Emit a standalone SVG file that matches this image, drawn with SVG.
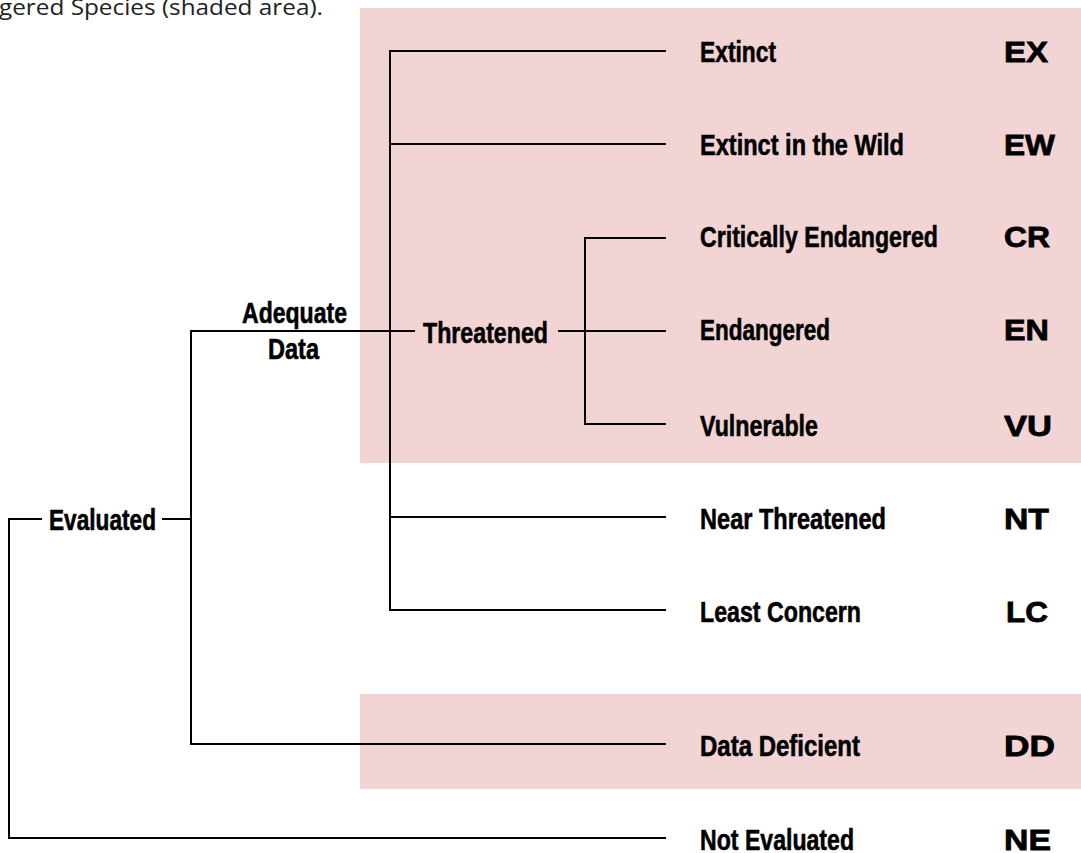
<svg xmlns="http://www.w3.org/2000/svg" width="1081" height="853" viewBox="0 0 1081 853">
<style>
.lbl{font-family:"Liberation Sans",Arial,sans-serif;font-weight:bold;font-size:30px;fill:#000;stroke:#000;stroke-width:0.6}
.abbr{font-family:"Liberation Sans",Arial,sans-serif;font-weight:bold;font-size:30px;fill:#000;stroke:#000;stroke-width:0.8}
.cap{font-family:"Open Sans","Noto Sans",sans-serif;font-size:21px;fill:#222}
.shade{fill:#F2D4D5}
.conn line, .conn polyline{stroke:#000;stroke-width:2;fill:none}
</style>
<rect width="1081" height="853" fill="#fff"/>
<text class="cap" x="-1" y="15" textLength="324" lengthAdjust="spacingAndGlyphs">gered Species (shaded area).</text>
<rect class="shade" x="360" y="8" width="721" height="455"/>
<rect class="shade" x="360" y="694" width="721" height="95"/>
<g class="conn" id="connectors">
<polyline points="666,51 390,51 390,610 666,610"/>
<line x1="390" y1="144" x2="666" y2="144"/>
<line x1="390" y1="517" x2="666" y2="517"/>
<polyline points="666,238 585,238 585,424 666,424"/>
<line x1="558" y1="331" x2="666" y2="331"/>
<polyline points="415,331 191,331 191,744 666,744"/>
<polyline points="42,519 9,519 9,838 666,838"/>
<line x1="162" y1="519" x2="191" y2="519"/>
</g>
<g id="evaluated"><text class="lbl" x="49" y="530" textLength="107" lengthAdjust="spacingAndGlyphs">Evaluated</text></g>
<g id="adequate"><text class="lbl" x="242" y="323" textLength="105" lengthAdjust="spacingAndGlyphs">Adequate</text><text class="lbl" x="268" y="359" textLength="51" lengthAdjust="spacingAndGlyphs">Data</text></g>
<g id="threatened"><text class="lbl" x="423" y="343" textLength="125" lengthAdjust="spacingAndGlyphs">Threatened</text></g>
<g id="ex"><text class="lbl" x="700" y="62" textLength="76" lengthAdjust="spacingAndGlyphs">Extinct</text><text class="abbr" x="1004" y="62" textLength="44" lengthAdjust="spacingAndGlyphs">EX</text></g>
<g id="ew"><text class="lbl" x="700" y="155" textLength="204" lengthAdjust="spacingAndGlyphs">Extinct in the Wild</text><text class="abbr" x="1004" y="155" textLength="51" lengthAdjust="spacingAndGlyphs">EW</text></g>
<g id="cr"><text class="lbl" x="700" y="247" textLength="238" lengthAdjust="spacingAndGlyphs">Critically Endangered</text><text class="abbr" x="1004" y="247" textLength="46" lengthAdjust="spacingAndGlyphs">CR</text></g>
<g id="en"><text class="lbl" x="700" y="340" textLength="130" lengthAdjust="spacingAndGlyphs">Endangered</text><text class="abbr" x="1004" y="340" textLength="45" lengthAdjust="spacingAndGlyphs">EN</text></g>
<g id="vu"><text class="lbl" x="700" y="436" textLength="118" lengthAdjust="spacingAndGlyphs">Vulnerable</text><text class="abbr" x="1004" y="436" textLength="48" lengthAdjust="spacingAndGlyphs">VU</text></g>
<g id="nt"><text class="lbl" x="700" y="529" textLength="186" lengthAdjust="spacingAndGlyphs">Near Threatened</text><text class="abbr" x="1004" y="529" textLength="45" lengthAdjust="spacingAndGlyphs">NT</text></g>
<g id="lc"><text class="lbl" x="700" y="622" textLength="161" lengthAdjust="spacingAndGlyphs">Least Concern</text><text class="abbr" x="1006" y="622" textLength="42" lengthAdjust="spacingAndGlyphs">LC</text></g>
<g id="dd"><text class="lbl" x="700" y="756" textLength="160" lengthAdjust="spacingAndGlyphs">Data Deficient</text><text class="abbr" x="1004" y="756" textLength="51" lengthAdjust="spacingAndGlyphs">DD</text></g>
<g id="ne"><text class="lbl" x="700" y="850" textLength="154" lengthAdjust="spacingAndGlyphs">Not Evaluated</text><text class="abbr" x="1004" y="850" textLength="47" lengthAdjust="spacingAndGlyphs">NE</text></g>
</svg>
